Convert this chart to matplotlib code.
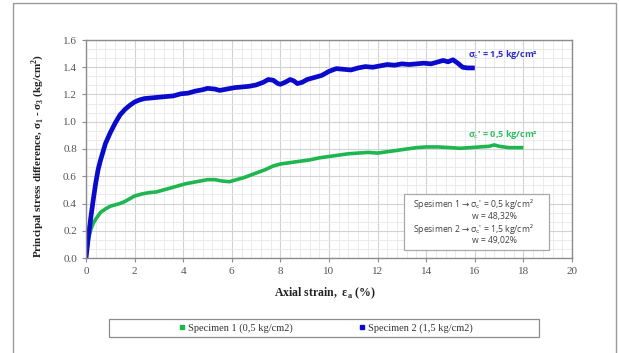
import matplotlib
matplotlib.use("Agg")
import matplotlib.pyplot as plt
from matplotlib.lines import Line2D
from matplotlib.patches import Rectangle
from matplotlib.ticker import MultipleLocator, FormatStrFormatter

plt.rcParams["font.family"] = ["Liberation Serif", "DejaVu Serif"]
plt.rcParams["mathtext.fontset"] = "custom"
plt.rcParams["mathtext.bf"] = "Liberation Serif:bold"
plt.rcParams["mathtext.rm"] = "Liberation Serif"

# Specimen 1 (sigma_c' = 0.5 kg/cm2)
strain_1 = [0, 0.05, 0.1, 0.2, 0.3, 0.4, 0.5, 0.6, 0.8, 1.0, 1.2, 1.4, 1.6, 1.8,
            2.0, 2.3, 2.6, 2.9, 3.2, 3.5, 3.8, 4.1, 4.4, 4.7, 5.0, 5.3, 5.6, 5.9,
            6.2, 6.5, 6.8, 7.1, 7.4, 7.7, 8.0, 8.4, 8.8, 9.2, 9.6, 10.0, 10.4,
            10.8, 11.2, 11.6, 12.0, 12.4, 12.8, 13.2, 13.6, 14.0, 14.5, 15.0,
            15.4, 15.8, 16.2, 16.6, 16.8, 17.0, 17.4, 17.8, 18.0]
stress_1 = [0, 0.08, 0.14, 0.21, 0.255, 0.285, 0.31, 0.335, 0.36, 0.38, 0.39,
            0.40, 0.415, 0.435, 0.455, 0.47, 0.48, 0.485, 0.50, 0.515, 0.53,
            0.545, 0.555, 0.565, 0.575, 0.575, 0.565, 0.56, 0.575, 0.59, 0.61,
            0.63, 0.65, 0.675, 0.69, 0.70, 0.71, 0.72, 0.735, 0.745, 0.755,
            0.765, 0.77, 0.775, 0.77, 0.78, 0.79, 0.80, 0.81, 0.815, 0.815,
            0.81, 0.805, 0.81, 0.815, 0.82, 0.83, 0.82, 0.81, 0.81, 0.81]

# Specimen 2 (sigma_c' = 1.5 kg/cm2)
strain_2 = [0, 0.1, 0.2, 0.3, 0.4, 0.5, 0.6, 0.7, 0.8, 0.9, 1.0, 1.2, 1.4, 1.6,
            1.8, 2.0, 2.2, 2.4, 2.7, 3.0, 3.3, 3.6, 3.9, 4.2, 4.5, 4.8, 5.0,
            5.3, 5.5, 5.8, 6.1, 6.4, 6.7, 7.0, 7.3, 7.5, 7.7, 7.9, 8.0, 8.2,
            8.4, 8.55, 8.7, 8.9, 9.1, 9.4, 9.7, 10.0, 10.3, 10.6, 10.9, 11.2,
            11.5, 11.8, 12.1, 12.4, 12.7, 13.0, 13.3, 13.6, 13.9, 14.2, 14.5,
            14.7, 14.9, 15.1, 15.3, 15.5, 15.7, 16.0]
stress_2 = [0, 0.16, 0.30, 0.43, 0.55, 0.65, 0.72, 0.78, 0.84, 0.88, 0.92,
            0.99, 1.05, 1.09, 1.12, 1.145, 1.16, 1.17, 1.175, 1.18, 1.185,
            1.19, 1.205, 1.21, 1.225, 1.235, 1.245, 1.24, 1.23, 1.24, 1.25,
            1.255, 1.26, 1.27, 1.29, 1.31, 1.305, 1.28, 1.275, 1.29, 1.31,
            1.30, 1.28, 1.29, 1.31, 1.325, 1.34, 1.37, 1.39, 1.385, 1.38,
            1.395, 1.405, 1.40, 1.41, 1.42, 1.415, 1.425, 1.42, 1.425, 1.43,
            1.425, 1.44, 1.45, 1.44, 1.455, 1.43, 1.40, 1.395, 1.395]

labels = ["Specimen 1 (0,5 kg/cm2)", "Specimen 2 (1,5 kg/cm2)"]
green = "#1DB64F"
blue = "#0A0ACC"
sans = ["Open Sans", "DejaVu Sans"]

fig = plt.figure(figsize=(6.19, 3.53), dpi=100)

# outer chart frame
fig.add_artist(Rectangle((13 / 619, -0.01), 603 / 619, 1 - 3 / 353 + 0.01,
                         transform=fig.transFigure, fill=False,
                         edgecolor="#9a9a9a", lw=1.0))

ax = fig.add_axes([86 / 619, 1 - 258 / 353, 486 / 619, 218 / 353])
ax.set_xlim(0, 20)
ax.set_ylim(0, 1.6)
ax.xaxis.set_major_locator(MultipleLocator(2))
ax.xaxis.set_minor_locator(MultipleLocator(0.4))
ax.yaxis.set_major_locator(MultipleLocator(0.2))
ax.yaxis.set_minor_locator(MultipleLocator(0.2 / 3))
ax.yaxis.set_major_formatter(FormatStrFormatter("%.1f"))
ax.xaxis.set_major_formatter(FormatStrFormatter("%d"))
ax.grid(which="major", color="#d2d2d2", lw=0.8)
ax.grid(which="minor", color="#e8e8e8", lw=0.6)
ax.set_axisbelow(True)
for s in ax.spines.values():
    s.set_color("#8c8c8c")
    s.set_linewidth(1.0)
ax.tick_params(which="major", direction="out", length=3, color="#8c8c8c",
               labelsize=8, labelcolor="#555555")
ax.tick_params(which="minor", length=0)

ax.plot(strain_1, stress_1, color=green, lw=2.6, solid_capstyle="butt",
        solid_joinstyle="round")
ax.plot(strain_2, stress_2, color=blue, lw=3.4, solid_capstyle="butt",
        solid_joinstyle="round")

ax.text(15.72, 1.49, r"σ$_\mathrm{c}$' = 1,5 kg/cm²", color="#2b2bd0",
        fontsize=6.5, fontfamily=sans, fontweight="bold", va="center",
        math_fontfamily="dejavusans")
ax.text(15.72, 0.91, r"σ$_\mathrm{c}$' = 0,5 kg/cm²", color="#2fbf63",
        fontsize=6.5, fontfamily=sans, fontweight="bold", va="center",
        math_fontfamily="dejavusans")

# info box
ax.add_patch(Rectangle((13.09, 0.059), 5.96, 0.411, facecolor="white",
                       edgecolor="#a8a8a8", lw=0.9, zorder=3))
box_txt = dict(fontsize=6.2, fontfamily=sans, color="#404040",
               va="center", zorder=4, math_fontfamily="dejavusans")
ax.text(13.44, 0.395,
        r"Spesimen 1$\rightarrow$σ$_\mathrm{c}$' = 0,5 kg/cm²", **box_txt)
ax.text(15.88, 0.303, "w = 48,32%", **box_txt)
ax.text(13.44, 0.215,
        r"Spesimen 2$\rightarrow$σ$_\mathrm{c}$' = 1,5 kg/cm²", **box_txt)
ax.text(15.88, 0.127, "w = 49,02%", **box_txt)

fig.text(38 / 619, 1 - 156 / 353,
         r"Principal stress difference, σ$_\mathbf{1}$ - σ$_\mathbf{3}$ (kg/cm$^\mathbf{2}$)",
         rotation=90, ha="center", va="center", fontsize=8,
         fontweight="bold", color="#222222")
fig.text(325 / 619, 1 - 293 / 353, r"Axial strain,  ε$_\mathbf{a}$ (%)",
         ha="center", va="center", fontsize=8.5,
         fontweight="bold", color="#222222")

# legend frame and entries
fig.add_artist(Rectangle((109 / 619, 1 - 337 / 353), 430 / 619, 18 / 353,
                         transform=fig.transFigure, facecolor="white",
                         edgecolor="#8c8c8c", lw=0.9))
handles = [Line2D([], [], color=green, marker="s", ls="none", markersize=2.5),
           Line2D([], [], color=blue, marker="s", ls="none", markersize=2.5)]
leg = fig.legend(handles, labels, loc="center", ncol=2,
                 bbox_to_anchor=(326 / 619, 1 - 328 / 353),
                 prop={"family": "Liberation Serif", "size": 7.5},
                 frameon=False, handlelength=0.6, handletextpad=0.3,
                 columnspacing=6.3)
for t in leg.get_texts():
    t.set_color("#333333")

fig.savefig("out.png", dpi=100)
